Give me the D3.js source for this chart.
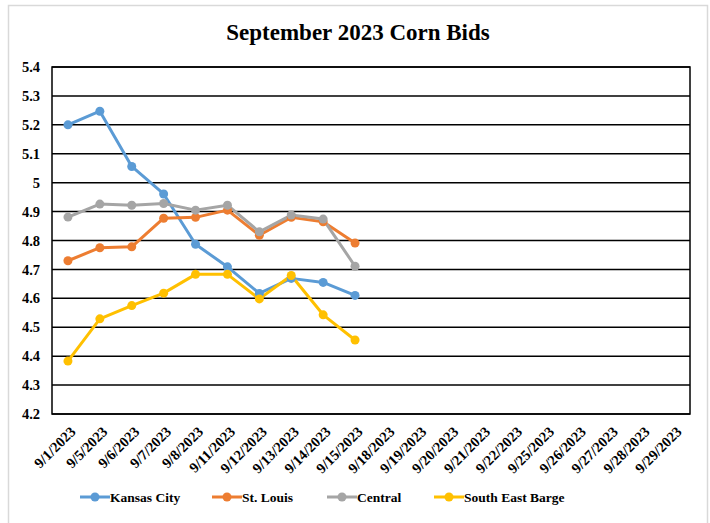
<!DOCTYPE html>
<html>
<head>
<meta charset="utf-8">
<script src="https://cdn.jsdelivr.net/npm/d3@7"></script>
<style>
  html, body { margin: 0; padding: 0; background: #fff; }
  svg { display: block; }
  svg text { font-family: "Liberation Serif", "Times New Roman", serif; font-weight: bold; fill: #000; }
</style>
</head>
<body>
<svg id="chart" width="710" height="523"></svg>
<script>
const title = "September 2023 Corn Bids";
const dates = ["9/1/2023","9/5/2023","9/6/2023","9/7/2023","9/8/2023","9/11/2023","9/12/2023","9/13/2023","9/14/2023","9/15/2023","9/18/2023","9/19/2023","9/20/2023","9/21/2023","9/22/2023","9/25/2023","9/26/2023","9/27/2023","9/28/2023","9/29/2023"];
const seriesNames = ["Kansas City","St. Louis","Central","South East Barge"];
const kansasCity = [5.20, 5.247, 5.056, 4.961, 4.787, 4.709, 4.617, 4.669, 4.655, 4.61];
const stLouis = [4.73, 4.775, 4.778, 4.877, 4.88, 4.905, 4.818, 4.88, 4.865, 4.791];
const central = [4.881, 4.926, 4.922, 4.928, 4.905, 4.922, 4.83, 4.888, 4.874, 4.711];
const southEastBarge = [4.383, 4.529, 4.575, 4.618, 4.683, 4.683, 4.598, 4.679, 4.543, 4.456];
const yTicks = [4.2,4.3,4.4,4.5,4.6,4.7,4.8,4.9,5,5.1,5.2,5.3,5.4];
const colors = ["#5B9BD5","#ED7D31","#A5A5A5","#FFC000"];

const series = [kansasCity, stLouis, central, southEastBarge];

const svg = d3.select("#chart");
const m = {left: 52, top: 67};
const pw = 690 - 52, ph = 414 - 67;
const font = "'Liberation Serif', 'Times New Roman', serif";

// outer frame
svg.append("rect").attr("x", 8.5).attr("y", 5.5).attr("width", 699).attr("height", 530)
  .attr("fill", "#fff").attr("stroke", "#d9d9d9").attr("stroke-width", 1.5);

svg.append("text").attr("x", 358).attr("y", 40).attr("text-anchor", "middle")
  .style("font-size", "23px")
  .text(title);

const g = svg.append("g").attr("transform", `translate(${m.left},${m.top})`);

const x = d3.scaleBand().domain(dates).range([0, pw]);
const y = d3.scaleLinear().domain([4.2, 5.4]).range([ph, 0]);

// gridlines
g.append("g").selectAll("line").data(yTicks).join("line")
  .attr("x1", 0).attr("x2", pw)
  .attr("y1", d => y(d)).attr("y2", d => y(d))
  .attr("stroke", "#000").attr("stroke-width", 1.5);

// border
g.append("rect").attr("x", 0).attr("y", 0).attr("width", pw).attr("height", ph)
  .attr("fill", "none").attr("stroke", "#000").attr("stroke-width", 1.5);

// y axis labels
const yAxis = d3.axisLeft(y).tickValues(yTicks).tickSize(0).tickPadding(12)
  .tickFormat(d => d3.format("")(+d.toFixed(1)));
const ya = g.append("g").call(yAxis).attr("font-family", null).attr("font-size", null);
ya.select(".domain").remove();
ya.selectAll("text").style("font-size", "14.5px");

// x axis labels
const xAxis = d3.axisBottom(x).tickSize(0).tickPadding(0);
const xa = g.append("g").attr("transform", `translate(0,${ph})`).call(xAxis)
  .attr("font-family", null).attr("font-size", null);
xa.select(".domain").remove();
xa.selectAll("text")
  .style("font-size", "14.5px")
  .attr("text-anchor", "end")
  .attr("dy", "0.35em")
  .attr("transform", "translate(5,15) rotate(-45)");

// lines
const line = d3.line().x((d, i) => x(dates[i]) + x.bandwidth() / 2).y(d => y(d));
series.forEach((s, k) => {
  g.append("path").datum(s).attr("d", line).attr("fill", "none")
    .attr("stroke", colors[k]).attr("stroke-width", 3).attr("stroke-linejoin", "round");
});
series.forEach((s, k) => {
  g.append("g").selectAll("circle").data(s).join("circle")
    .attr("cx", (d, i) => x(dates[i]) + x.bandwidth() / 2)
    .attr("cy", d => y(d)).attr("r", 4.5).attr("fill", colors[k]);
});

// legend
const legX = [80, 212, 327, 434];
const lg = svg.append("g");
seriesNames.forEach((n, k) => {
  const gg = lg.append("g").attr("transform", `translate(${legX[k]},497)`);
  gg.append("line").attr("x1", 0).attr("x2", 30).attr("y1", 0).attr("y2", 0)
    .attr("stroke", colors[k]).attr("stroke-width", 3);
  gg.append("circle").attr("cx", 15).attr("cy", 0).attr("r", 4.5).attr("fill", colors[k]);
  gg.append("text").attr("x", 30).attr("y", 0).attr("dy", "0.35em")
    .style("font-size", "13.5px")
    .text(n);
});
</script>
</body>
</html>
